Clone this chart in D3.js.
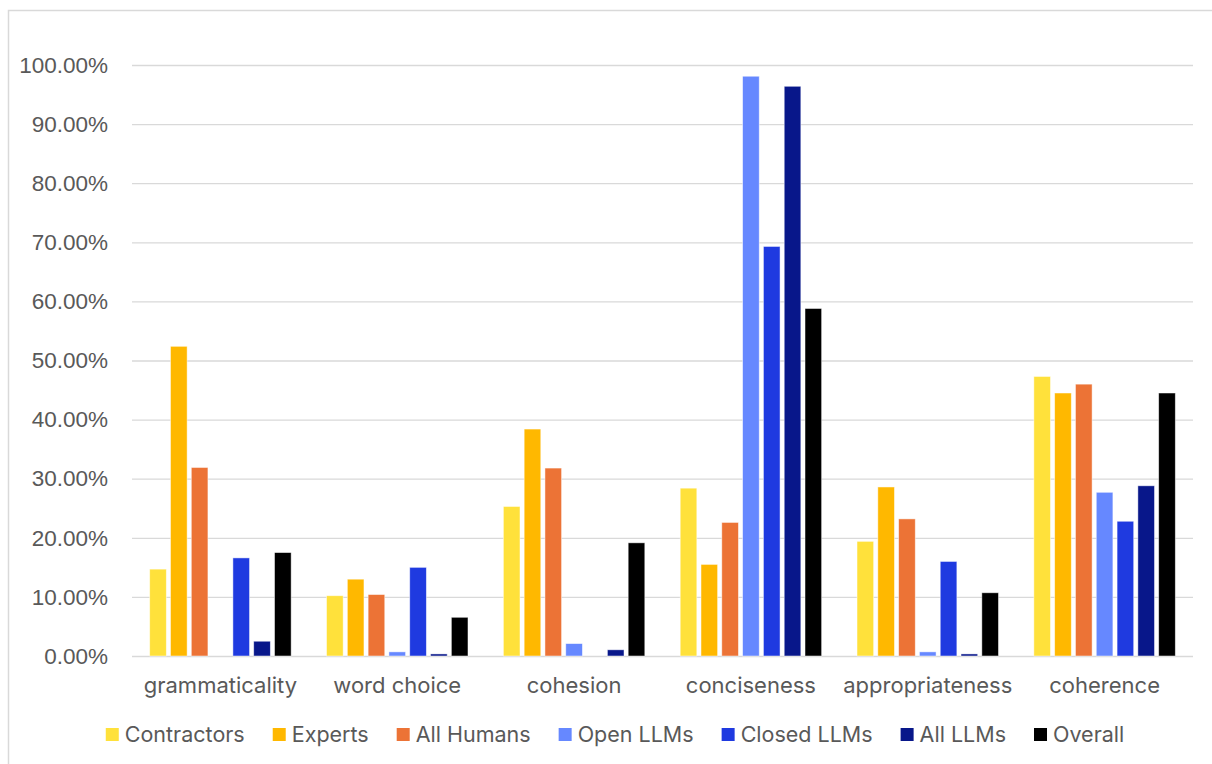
<!DOCTYPE html>
<html>
<head>
<meta charset="utf-8">
<script src="https://cdn.jsdelivr.net/npm/d3@7"></script>
<style>
  body { margin: 0; background: #fff; }
  svg { display: block; }
</style>
</head>
<body>
<div id="app"></div>
<script>
const categories = ["grammaticality", "word choice", "cohesion", "conciseness", "appropriateness", "coherence"];
const seriesNames = ["Contractors", "Experts", "All Humans", "Open LLMs", "Closed LLMs", "All LLMs", "Overall"];
const colors = ["#FFE13B", "#FFB800", "#EC7336", "#6688FF", "#1F3AE0", "#08178A", "#000000"];

// percent values, one array per series, in category order
const contractors = [14.7, 10.2, 25.3, 28.4, 19.4, 47.3];
const experts     = [52.4, 13.0, 38.4, 15.5, 28.6, 44.5];
const allHumans   = [31.9, 10.4, 31.8, 22.6, 23.2, 46.0];
const openLLMs    = [0.0, 0.7, 2.1, 98.1, 0.7, 27.7];
const closedLLMs  = [16.6, 15.0, 0.0, 69.3, 16.0, 22.8];
const allLLMs     = [2.5, 0.35, 1.05, 96.4, 0.35, 28.8];
const overall     = [17.5, 6.55, 19.15, 58.8, 10.7, 44.5];
const yTicks = [0, 10, 20, 30, 40, 50, 60, 70, 80, 90, 100];

const series = [contractors, experts, allHumans, openLLMs, closedLLMs, allLLMs, overall];

const width = 1212;
const height = 764;
const plotLeft = 132, plotRight = 1193, plotTop = 65, plotBottom = 656;

const svg = d3.select('#app')
  .append('svg')
  .attr('width', width)
  .attr('height', height);

// outer chart frame (left and top edges visible)
svg.append('path')
  .attr('d', `M8.5,${height} V10.5 H${width}`)
  .attr('fill', 'none')
  .attr('stroke', '#d9d9d9')
  .attr('stroke-width', 1.5);

const x = d3.scaleBand()
  .domain(categories)
  .range([plotLeft, plotRight]);

const xInner = d3.scaleBand()
  .domain(seriesNames)
  .range([0, x.bandwidth()])
  .paddingInner(0.2)
  .paddingOuter(0.85);

const y = d3.scaleLinear()
  .domain([0, 100])
  .range([plotBottom, plotTop]);

// gridlines + y labels
const yAxis = svg.append('g')
  .attr('transform', `translate(${plotLeft},0)`)
  .call(d3.axisLeft(y)
    .tickValues(yTicks)
    .tickSize(-(plotRight - plotLeft))
    .tickPadding(24)
    .tickFormat(d => d.toFixed(2) + '%'));
yAxis.select('.domain').remove();
yAxis.selectAll('.tick line')
  .attr('stroke', '#d9d9d9')
  .attr('stroke-width', 1.3);
yAxis.selectAll('.tick text')
  .attr('fill', '#595959')
  .style('font-family', '"Liberation Sans", Arial, sans-serif')
  .style('font-size', '22.5px');

// bars
const groups = svg.append('g')
  .selectAll('g')
  .data(seriesNames)
  .join('g')
  .attr('fill', (d, i) => colors[i]);

groups.selectAll('rect')
  .data((name, i) => series[i].map((v, j) => ({ cat: categories[j], name, v })))
  .join('rect')
  .filter(d => d.v > 0)
  .attr('x', d => x(d.cat) + xInner(d.name))
  .attr('y', d => y(d.v))
  .attr('width', xInner.bandwidth())
  .attr('height', d => y(0) - y(d.v))
  .attr('stroke', 'rgba(255,255,255,0.6)')
  .attr('stroke-width', 0.8);

// category labels
const xAxis = svg.append('g')
  .attr('transform', `translate(0,${plotBottom})`)
  .call(d3.axisBottom(x).tickSize(0).tickPadding(21));
xAxis.select('.domain').remove();
xAxis.selectAll('.tick text')
  .attr('fill', '#595959')
  .style('font-family', 'Inter, "Liberation Sans", sans-serif')
  .style('font-size', '22px');

// legend
const legend = svg.append('g')
  .style('font-family', 'Inter, "Liberation Sans", sans-serif')
  .style('font-size', '21.5px');

let lx = 0;
seriesNames.forEach((name, i) => {
  const g = legend.append('g');
  g.append('rect')
    .attr('x', 0).attr('y', -6)
    .attr('width', 13).attr('height', 13)
    .attr('fill', colors[i]);
  const t = g.append('text')
    .attr('x', 19).attr('dy', '0.35em')
    .attr('fill', '#595959')
    .text(name);
  const w = 19 + t.node().getComputedTextLength();
  g.attr('transform', `translate(${lx},0)`);
  lx += w + 28;
});
const totalW = lx - 28;
legend.attr('transform', `translate(${(99 + 1131) / 2 - totalW / 2},734)`);
</script>
</body>
</html>
